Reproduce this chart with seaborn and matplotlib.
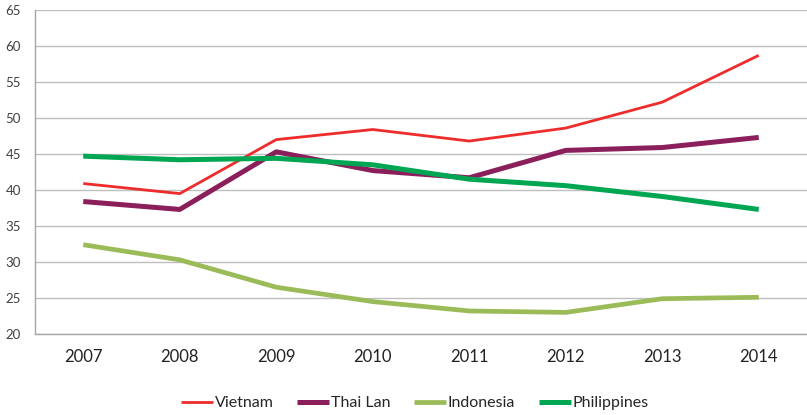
import numpy as np
import pandas as pd
import matplotlib.pyplot as plt
import seaborn as sns

years = ["2007", "2008", "2009", "2010", "2011", "2012", "2013", "2014"]
vietnam = [40.9, 39.5, 47.0, 48.4, 46.8, 48.6, 52.2, 58.7]
thai_lan = [38.4, 37.3, 45.3, 42.7, 41.7, 45.5, 45.9, 47.3]
indonesia = [32.4, 30.3, 26.5, 24.5, 23.2, 23.0, 24.9, 25.1]
philippines = [44.7, 44.2, 44.4, 43.5, 41.5, 40.6, 39.1, 37.3]

series = ["Vietnam", "Thai Lan", "Indonesia", "Philippines"]
colors = ["#EE2C2C", "#8A1F5C", "#9BBB59", "#00A651"]
widths = [2.0, 3.6, 3.4, 3.6]

df = pd.DataFrame({
    "year": years * 4,
    "x": list(range(len(years))) * 4,
    "value": vietnam + thai_lan + indonesia + philippines,
    "country": sum([[s] * len(years) for s in series], []),
})

sns.set_style("white")
plt.rcParams["font.family"] = ["Lato", "DejaVu Sans"]

fig = plt.figure(figsize=(8.07, 4.15), dpi=100)
ax = fig.add_axes([35 / 807, 1 - 334 / 415, 1 - 35 / 807, (334 - 10) / 415])

for s, c, w in zip(series, colors, widths):
    d = df[df["country"] == s]
    sns.lineplot(data=d, x="x", y="value", color=c, linewidth=w, label=s, ax=ax,
                 solid_capstyle="butt")

ax.set_ylim(20, 65)
ax.set_yticks(np.arange(20, 66, 5))
ax.set_xlim(-0.5, 7.43)
ax.set_xticks(range(len(years)))
ax.set_xticklabels(years)
ax.set_xticks(np.arange(-0.5, 7.6, 1), minor=True)
ax.tick_params(axis="x", which="major", length=0, labelsize=12, colors="#222222", pad=11)
ax.tick_params(axis="x", which="minor", length=5, width=1, color="#A6A6A6", direction="out")
ax.tick_params(axis="y", length=3, width=1, color="#A6A6A6", labelsize=9.5,
               labelcolor="#404040", pad=7)
ax.grid(axis="y", color="#BFBFBF", linewidth=1)
ax.set_axisbelow(True)
for sp in ["top", "right"]:
    ax.spines[sp].set_visible(False)
for sp in ["left", "bottom"]:
    ax.spines[sp].set_color("#A6A6A6")
    ax.spines[sp].set_linewidth(1)
ax.set_xlabel("")
ax.set_ylabel("")

ax.legend(loc="center", bbox_to_anchor=(415 / 807, 12 / 415),
          bbox_transform=fig.transFigure, ncol=4, frameon=False, fontsize=11.5,
          handlelength=2.0, handletextpad=0.1, columnspacing=1.5)

fig.savefig("out.png", dpi=100)
